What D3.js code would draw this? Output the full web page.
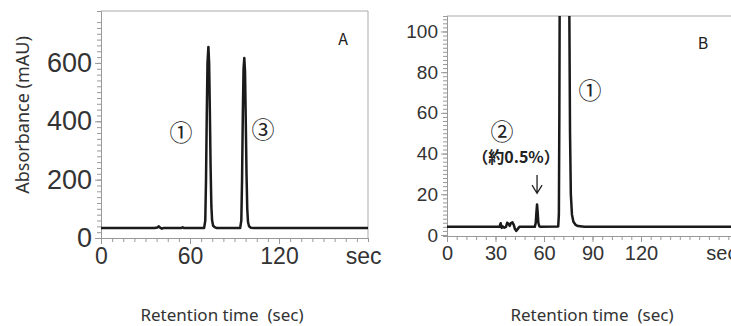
<!DOCTYPE html>
<html>
<head>
<meta charset="utf-8">
<script src="https://cdn.jsdelivr.net/npm/d3@7"></script>
<style>
  body { margin: 0; background: #fff; }
  svg { display: block; }
  .tick-label { font-family: "Liberation Sans Narrow", "Arial Narrow", sans-serif; fill: #333; }
</style>
</head>
<body>
<div id="chart"></div>
<script>
// Chromatogram A (time in sec, absorbance in mAU)
const timeA = [0, 36, 38, 39, 40, 41, 42, 54, 55, 56,
  69.5, 70.3, 70.8, 71.3, 71.8, 72.4, 72.9, 73.4, 73.9, 74.4, 74.9, 75.6, 76.6, 78,
  93.8, 94.6, 95.1, 95.6, 96.1, 96.6, 97.1, 97.6, 98.1, 98.6, 99.1, 99.8, 101, 103,
  150, 180];
const absA = [34, 34, 36, 40, 35, 32, 34, 34, 37, 34,
  34, 60, 200, 420, 600, 655, 600, 430, 240, 110, 60, 42, 37, 34,
  34, 60, 200, 420, 580, 617, 570, 400, 220, 100, 55, 40, 35, 34,
  34, 34];

// Chromatogram B (zoomed to show the impurity peak)
const timeB = [0, 32.5, 33.2, 33.8, 34.5, 35.5, 36.5, 37.2, 38, 38.8, 39.5, 40.5, 41.3, 42, 42.8, 43.8, 44.8,
  54.3, 54.9, 55.3, 55.7, 56.1, 56.5, 57.1, 58,
  68.8, 69.2, 69.5, 70.2, 71.2, 72.3, 73.4, 74.6, 75.6, 76.1, 76.6, 77.3, 78.2, 79.5, 81, 85,
  120, 180];
const absB = [4, 4, 5.8, 3.5, 4.2, 3.6, 4, 6, 5.5, 4.5, 5.8, 6.2, 5, 3, 2, 3, 4,
  4, 6, 11, 15, 11, 6, 4.3, 4,
  4.2, 10, 60, 250, 520, 655, 520, 280, 120, 50, 20, 10, 6.5, 5, 4.4, 4.1,
  4, 4];

const xTicksA = [0, 60, 120];
const yTicksA = [0, 200, 400, 600];
const xTicksB = [0, 30, 60, 90, 120];
const yTicksB = [0, 20, 40, 60, 80, 100];
const impurityTime = 55.7;

const width = 731, height = 326;

const svg = d3.select('#chart').append('svg')
  .attr('width', width)
  .attr('height', height);

svg.append('defs').append('clipPath').attr('id', 'clipB')
  .append('rect').attr('x', 447).attr('y', 16).attr('width', 291).attr('height', 220);

// panel builder
function drawPanel(cfg) {
  const { x, y, time, abs, xTicks, yTicks, xMinor, yMinor, xFont, yFont, secAt, clip } = cfg;
  const g = svg.append('g');
  const [x0, x1] = x.range();
  const [yb, yt] = y.range();

  // frame (top + right)
  g.append('path')
    .attr('d', `M${x0},${yt}H${x1}V${yb}`)
    .attr('fill', 'none').attr('stroke', '#aaa').attr('stroke-width', 1);

  // minor ticks
  const yAxisMinor = d3.axisLeft(y).tickValues(yMinor).tickSize(4).tickFormat('');
  g.append('g').attr('transform', `translate(${x0},0)`).call(yAxisMinor)
    .call(s => s.selectAll('line').attr('stroke', '#999'))
    .call(s => s.select('.domain').attr('stroke', '#999'));
  const xAxisMinor = d3.axisBottom(x).tickValues(xMinor).tickSize(4).tickFormat('');
  g.append('g').attr('transform', `translate(0,${yb})`).call(xAxisMinor)
    .call(s => s.selectAll('line').attr('stroke', '#999'))
    .call(s => s.select('.domain').attr('stroke', '#999'));

  // major ticks + labels
  const yAxis = d3.axisLeft(y).tickValues(yTicks).tickSize(6).tickPadding(3);
  g.append('g').attr('transform', `translate(${x0},0)`).call(yAxis)
    .call(s => s.select('.domain').remove())
    .call(s => s.selectAll('line').attr('stroke', '#999'))
    .call(s => s.selectAll('text').attr('class', 'tick-label').style('font-size', yFont + 'px'));
  const xAxis = d3.axisBottom(x).tickValues(xTicks).tickSize(6).tickPadding(4);
  g.append('g').attr('transform', `translate(0,${yb})`).call(xAxis)
    .call(s => s.select('.domain').remove())
    .call(s => s.selectAll('line').attr('stroke', '#999'))
    .call(s => s.selectAll('text').attr('class', 'tick-label').style('font-size', xFont + 'px'));

  g.append('text').attr('class', 'tick-label')
    .attr('x', x(secAt)).attr('y', yb + 10)
    .attr('dy', '0.71em').attr('text-anchor', 'middle')
    .style('font-size', xFont + 'px')
    .text('sec');

  // trace
  const line = d3.line().x(d => x(d[0])).y(d => y(d[1]));
  const trace = g.append('path')
    .datum(time.map((t, i) => [t, abs[i]]))
    .attr('d', line)
    .attr('fill', 'none')
    .attr('stroke', '#1a1a1a')
    .attr('stroke-width', 2.5)
    .attr('stroke-linejoin', 'round');
  if (clip) trace.attr('clip-path', `url(#${clip})`);
  return g;
}

const xA = d3.scaleLinear().domain([0, 180]).range([101, 368]);
const yA = d3.scaleLinear().domain([0, 778]).range([238, 11]);
const gA = drawPanel({
  x: xA, y: yA, time: timeA, abs: absA,
  xTicks: xTicksA, yTicks: yTicksA,
  xMinor: d3.range(0, 180.1, 7.5), yMinor: d3.range(0, 760, 20),
  xFont: 23, yFont: 27, secAt: 177
});

const xB = d3.scaleLinear().domain([0, 180]).range([447, 738]);
const yB = d3.scaleLinear().domain([-0.5, 107.6]).range([236, 16]);
const gB = drawPanel({
  x: xB, y: yB, time: timeB, abs: absB,
  xTicks: xTicksB, yTicks: yTicksB,
  xMinor: d3.range(0, 180.1, 6), yMinor: d3.range(0, 107, 2),
  xFont: 20, yFont: 19, secAt: 170, clip: 'clipB'
});

// annotations
const cjk = '"Noto Sans CJK JP", "Noto Sans", sans-serif';
function label(g, x, y, text, size, weight) {
  g.append('text')
    .attr('x', x).attr('y', y)
    .attr('text-anchor', 'middle')
    .attr('dominant-baseline', 'central')
    .style('font-family', cjk)
    .style('font-size', size + 'px')
    .style('font-weight', weight || 'normal')
    .style('fill', '#222')
    .text(text);
}
label(gA, 343, 38, 'A', 16);
label(gA, 181, 131, '①', 23);
label(gA, 263, 128, '③', 23);
label(gB, 703, 42, 'B', 16);
label(gB, 590, 89, '①', 23);
label(gB, 502, 130, '②', 23);
label(gB, 516, 156, '（約0.5%）', 16, 'bold');

// arrow above impurity peak
const ax = xB(impurityTime);
gB.append('path')
  .attr('d', `M${ax},${yB(29.5)}V${yB(20.5)}M${ax - 5},${yB(24.5)}L${ax},${yB(20.5)}L${ax + 5},${yB(24.5)}`)
  .attr('fill', 'none').attr('stroke', '#222').attr('stroke-width', 1.3);

// axis titles
svg.append('text')
  .attr('transform', 'translate(22,115) rotate(-90)')
  .attr('text-anchor', 'middle')
  .attr('dominant-baseline', 'central')
  .style('font-family', '"Noto Sans", sans-serif')
  .style('font-size', '18px')
  .style('fill', '#333')
  .text('Absorbance (mAU)');

[222, 592].forEach(cx => {
  svg.append('text')
    .attr('x', cx).attr('y', 314)
    .attr('text-anchor', 'middle')
    .attr('dominant-baseline', 'central')
    .attr('xml:space', 'preserve')
    .style('font-family', '"Noto Sans", sans-serif')
    .style('font-size', '17px')
    .style('fill', '#333')
    .text('Retention time  (sec)');
});
</script>
</body>
</html>
